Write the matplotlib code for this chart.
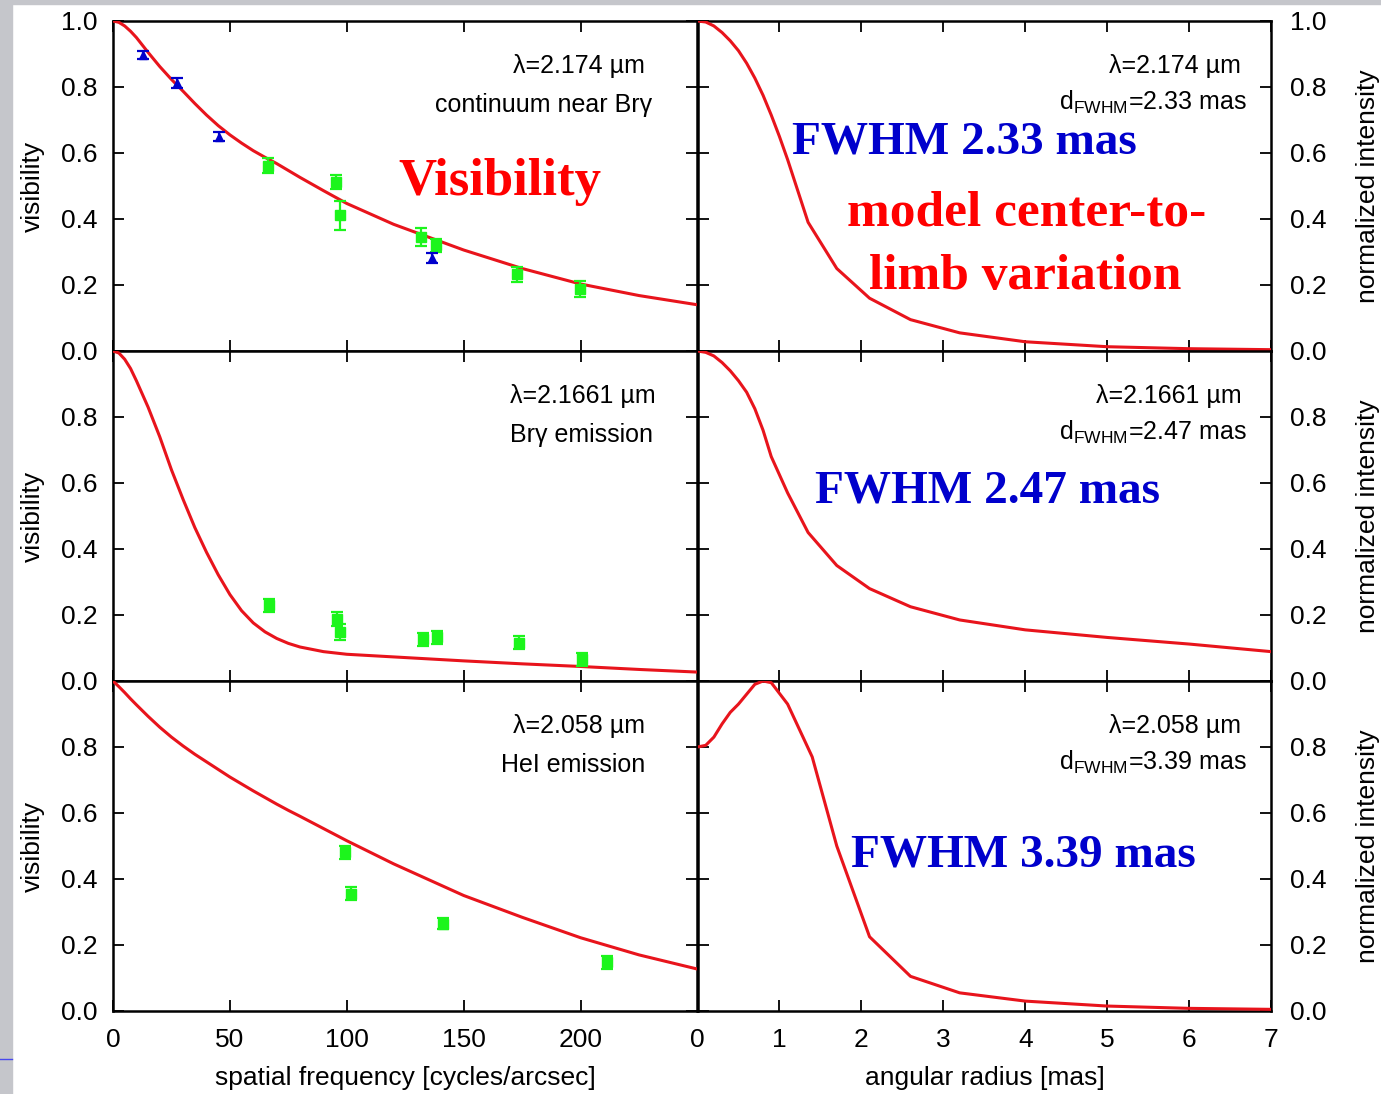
import numpy as np
import matplotlib
matplotlib.use("Agg")
from matplotlib import pyplot as plt
from matplotlib.patches import Rectangle
from matplotlib.lines import Line2D

plt.rcParams['font.family'] = ['Liberation Sans', 'DejaVu Sans']
plt.rcParams['mathtext.fontset'] = 'custom'
plt.rcParams['mathtext.rm'] = 'Liberation Sans'
plt.rcParams['mathtext.it'] = 'Liberation Sans'

# ---- data: visibility panels (spatial frequency in cycles/arcsec) ----
freq_model = [0, 2.5, 5, 7.5, 10, 15, 20, 25, 30, 35, 40, 45, 50, 55, 60, 65, 70, 75, 80, 90, 100, 120, 150, 175,
              200, 225, 250]
vis_model_cont = [1.0, 0.996, 0.985, 0.969, 0.95, 0.905, 0.862, 0.823, 0.787, 0.75, 0.715, 0.683, 0.655, 0.630,
                  0.607, 0.587, 0.568, 0.547, 0.526, 0.486, 0.447, 0.384, 0.306, 0.250, 0.203, 0.168, 0.140]
vis_model_brg = [1.0, 0.994, 0.975, 0.947, 0.91, 0.83, 0.74, 0.64, 0.55, 0.465, 0.39, 0.322, 0.262, 0.213, 0.176,
                 0.149, 0.129, 0.114, 0.103, 0.089, 0.081, 0.073, 0.061, 0.052, 0.044, 0.035, 0.027]
vis_model_hei = [1.0, 0.983, 0.965, 0.946, 0.928, 0.893, 0.86, 0.83, 0.803, 0.778, 0.755, 0.732, 0.709, 0.688,
                 0.667, 0.647, 0.627, 0.608, 0.590, 0.553, 0.516, 0.446, 0.350, 0.284, 0.222, 0.170, 0.127]

# continuum: blue triangles and green squares
cont_blue_f = [12.9, 27.3, 45.2, 136.3]
cont_blue_v = [0.896, 0.812, 0.650, 0.281]
cont_blue_e = [0.012, 0.014, 0.014, 0.015]
cont_green_f = [66.3, 95.5, 96.9, 131.7, 138.1, 172.9, 199.6]
cont_green_v = [0.562, 0.512, 0.411, 0.345, 0.320, 0.232, 0.188]
cont_green_e = [0.024, 0.021, 0.045, 0.028, 0.020, 0.022, 0.024]

brg_f = [66.6, 95.6, 97.1, 132.5, 138.5, 173.7, 200.7]
brg_v = [0.229, 0.188, 0.148, 0.126, 0.133, 0.116, 0.066]
brg_e = [0.021, 0.020, 0.024, 0.020, 0.020, 0.020, 0.020]

hei_f = [99.3, 101.7, 141.1, 211.1]
hei_v = [0.481, 0.356, 0.265, 0.147]
hei_e = [0.020, 0.020, 0.018, 0.020]

# ---- data: intensity profiles (angular radius in mas) ----
r_cont = [0, 0.1, 0.2, 0.3, 0.4, 0.5, 0.6, 0.7, 0.8, 0.9, 1.0, 1.1, 1.35, 1.7, 2.1, 2.6, 3.2, 4.0, 5.0, 6.0, 7.0]
i_cont = [1.0, 0.997, 0.985, 0.965, 0.94, 0.91, 0.872, 0.827, 0.775, 0.715, 0.65, 0.58, 0.39, 0.25, 0.16, 0.095,
          0.055, 0.028, 0.013, 0.007, 0.004]
r_brg = [0, 0.1, 0.2, 0.3, 0.4, 0.5, 0.6, 0.7, 0.8, 0.9, 1.1, 1.35, 1.7, 2.1, 2.6, 3.2, 4.0, 5.0, 6.0, 7.0]
i_brg = [1.0, 0.996, 0.985, 0.965, 0.94, 0.91, 0.875, 0.825, 0.76, 0.68, 0.57, 0.45, 0.35, 0.28, 0.225, 0.185,
         0.155, 0.132, 0.112, 0.089]
r_hei = [0, 0.1, 0.2, 0.3, 0.4, 0.5, 0.6, 0.7, 0.8, 0.9, 1.1, 1.4, 1.7, 2.1, 2.6, 3.2, 4.0, 5.0, 6.0, 7.0]
i_hei = [0.80, 0.805, 0.83, 0.87, 0.905, 0.93, 0.96, 0.99, 1.0, 0.995, 0.93, 0.77, 0.5, 0.225, 0.105, 0.055,
         0.03, 0.015, 0.008, 0.005]

lam_labels = [u"\u03bb=2.174 \u00b5m", u"\u03bb=2.1661 \u00b5m", u"\u03bb=2.058 \u00b5m"]
line_labels = [u"continuum near Br\u03b3", u"Br\u03b3 emission", "HeI emission"]
fwhm_labels = [r"d$_{\mathrm{FWHM}}$=2.33 mas", r"d$_{\mathrm{FWHM}}$=2.47 mas", r"d$_{\mathrm{FWHM}}$=3.39 mas"]
big_fwhm = ["FWHM 2.33 mas", "FWHM 2.47 mas", "FWHM 3.39 mas"]

RED = '#e8141c'
GREEN = '#1cf51c'
BLUE = '#0000cc'
W, H = 1381, 1094

fig = plt.figure(figsize=(W / 100, H / 100), dpi=100, facecolor='white')
# slide background strips
fig.add_artist(Rectangle((0, 0), 12 / W, 1, transform=fig.transFigure, color='#c5c6cb', zorder=0))
fig.add_artist(Rectangle((0, 1 - 4 / H), 1, 4 / H, transform=fig.transFigure, color='#c5c6cb', zorder=0))
fig.add_artist(Line2D([0, 12 / W], [1 - 1059 / H] * 2, transform=fig.transFigure, color='#4848ee', lw=1))

tops = [21, 351, 681]
xl0, xl1, xr1 = 113, 697.5, 1271
ph = 330


def style(ax):
    for s in ax.spines.values():
        s.set_linewidth(1.8)
    ax.tick_params(direction='in', length=8, width=1.3, top=True, bottom=True, left=True, right=True,
                   labelsize=19, pad=11)


vis_models = [vis_model_cont, vis_model_brg, vis_model_hei]
green_sets = [(cont_green_f, cont_green_v, cont_green_e), (brg_f, brg_v, brg_e), (hei_f, hei_v, hei_e)]
prof_sets = [(r_cont, i_cont), (r_brg, i_brg), (r_hei, i_hei)]

for row in range(3):
    bottom = 1 - (tops[row] + ph) / H
    axl = fig.add_axes([xl0 / W, bottom, (xl1 - xl0) / W, ph / H])
    axr = fig.add_axes([xl1 / W, bottom, (xr1 - xl1) / W, ph / H])

    # left: visibilities
    axl.plot(freq_model, vis_models[row], color=RED, lw=2.2, zorder=3)
    gf, gv, ge = green_sets[row]
    axl.errorbar(gf, gv, yerr=ge, fmt='s', color=GREEN, ms=6.5, capsize=4.5, elinewidth=1.6,
                 capthick=1.6, zorder=4)
    if row == 0:
        axl.errorbar(cont_blue_f, cont_blue_v, yerr=cont_blue_e, fmt='^', color=BLUE, ms=6, capsize=4.5,
                     elinewidth=1.6, capthick=1.6, zorder=4)
    axl.set_xlim(0, 250)
    axl.set_ylim(0, 1)
    axl.set_xticks([0, 50, 100, 150, 200])
    axl.set_yticks([0, 0.2, 0.4, 0.6, 0.8, 1.0] if row == 0 else [0, 0.2, 0.4, 0.6, 0.8])
    axl.yaxis.set_major_formatter(matplotlib.ticker.FormatStrFormatter('%.1f'))
    style(axl)
    axl.tick_params(labelbottom=(row == 2), pad=12 if row == 2 else 11)
    axl.tick_params(axis='y', pad=11)

    if row == 1:
        axl.text(0.679, 0.842, lam_labels[row], transform=axl.transAxes, ha='left', va='baseline', fontsize=18)
        axl.text(0.679, 0.724, line_labels[row], transform=axl.transAxes, ha='left', va='baseline', fontsize=18)
    else:
        axl.text(0.910, 0.842, lam_labels[row], transform=axl.transAxes, ha='right', va='baseline', fontsize=18)
        axl.text(0.922 if row == 0 else 0.910, 0.724, line_labels[row], transform=axl.transAxes,
                 ha='right', va='baseline', fontsize=18)

    # right: intensity profiles
    rr, ii = prof_sets[row]
    axr.plot(rr, ii, color=RED, lw=2.2, zorder=3)
    axr.set_xlim(0, 7)
    axr.set_ylim(0, 1)
    axr.set_xticks(range(8))
    axr.set_yticks([0, 0.2, 0.4, 0.6, 0.8, 1.0] if row == 0 else [0, 0.2, 0.4, 0.6, 0.8])
    axr.yaxis.set_major_formatter(matplotlib.ticker.FormatStrFormatter('%.1f'))
    style(axr)
    axr.tick_params(labelbottom=(row == 2), labelleft=False, labelright=True, pad=12 if row == 2 else 11)
    axr.tick_params(axis='y', pad=14)
    axr.text(0.948, 0.842, lam_labels[row], transform=axr.transAxes, ha='right', va='baseline', fontsize=18)
    axr.text(0.958, 0.730, fwhm_labels[row], transform=axr.transAxes, ha='right', va='baseline', fontsize=18)

    # side labels
    yc = 1 - (tops[row] + ph / 2) / H
    fig.text(33 / W, yc, "visibility", rotation=90, ha='center', va='center', fontsize=19)
    fig.text(1368 / W, yc, "normalized intensity", rotation=90, ha='center', va='center', fontsize=19)

    # big annotations
    fwhm_pos = [(0.465, 0.600), (0.505, 0.542), (0.569, 0.439)][row]
    axr.text(fwhm_pos[0], fwhm_pos[1], big_fwhm[row], transform=axr.transAxes, ha='center', va='baseline',
             fontsize=34, fontweight='bold', color=BLUE, family='Liberation Serif', zorder=5)
    if row == 0:
        axl.text(0.662, 0.473, "Visibility", transform=axl.transAxes, ha='center', va='baseline',
                 fontsize=38, fontweight='bold', color='#ff0000', family='Liberation Serif', zorder=5)
        axr.text(0.574, 0.379, "model center-to-", transform=axr.transAxes, ha='center', va='baseline',
                 fontsize=37, fontweight='bold', color='#ff0000', family='Liberation Serif', zorder=5)
        axr.text(0.571, 0.188, "limb variation", transform=axr.transAxes, ha='center', va='baseline',
                 fontsize=37, fontweight='bold', color='#ff0000', family='Liberation Serif', zorder=5)

fig.text(405 / W, 1 - 1078 / H, "spatial frequency [cycles/arcsec]", ha='center', va='center', fontsize=19)
fig.text(985 / W, 1 - 1078 / H, "angular radius [mas]", ha='center', va='center', fontsize=19)

fig.savefig("out.png", dpi=100, facecolor='white')
